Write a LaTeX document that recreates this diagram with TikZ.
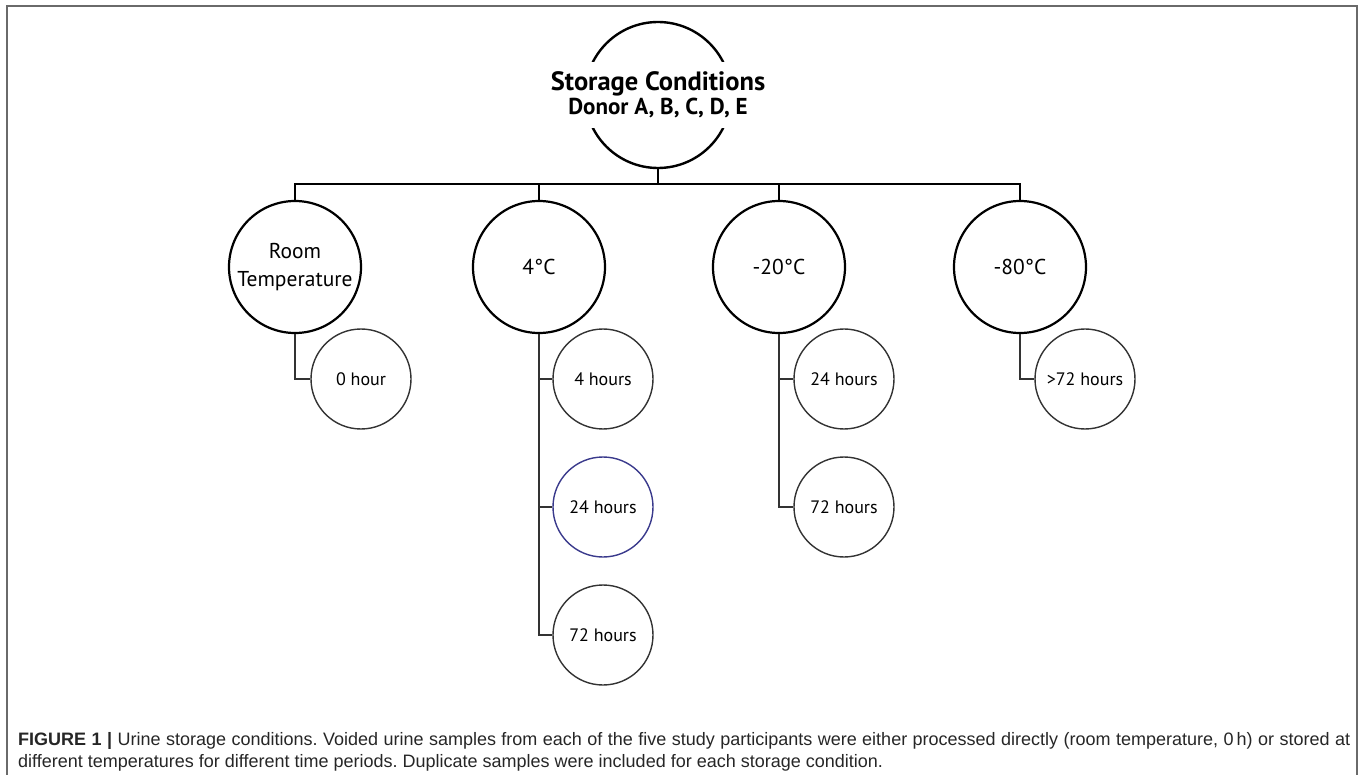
\documentclass[tikz,border=0pt]{standalone}
\usepackage{fontspec}
\setmainfont{PT Sans}
\newfontfamily\capfont{Liberation Sans}
\definecolor{navyc}{HTML}{3A3A8C}
\definecolor{framec}{HTML}{6A6A6A}
\begin{document}
\begin{tikzpicture}[x=1pt,y=-1pt,
  bigc/.style={circle,draw=black,line width=2.2pt,minimum size=132pt,inner sep=0pt,align=center,font=\fontsize{21.5}{28}\selectfont},
  smallc/.style={circle,draw=black!80,line width=1.4pt,minimum size=100pt,inner sep=0pt,font=\fontsize{18}{20}\selectfont},
  bus/.style={line width=2.4pt},
  branch/.style={line width=1.5pt,draw=black!80}]
\useasboundingbox (0,0) rectangle (1360,775);
\draw[framec,line width=1.3pt] (7,780) -- (7,6) -- (1357,6) -- (1357,780);
% root
\node[circle,draw=black,line width=2.4pt,minimum size=146pt,inner sep=0pt] (root) at (658,95) {};
\node[fill=white,inner sep=0pt,minimum height=66pt,minimum width=232pt,align=center] (roottxt) at (658,95)
  {{\fontsize{26.5}{30}\selectfont\bfseries Storage Conditions}\\[1pt]{\fontsize{23}{28}\selectfont\bfseries Donor A, B, C, D, E}};
% level 1
\node[bigc] (rt)  at (295,267) {Room\\Temperature};
\node[bigc] (c4)  at (539,267) {4°C};
\node[bigc] (c20) at (779,267) {-20°C};
\node[bigc] (c80) at (1020,267) {-80°C};
% bus
\coordinate (busm) at (658,184);
\draw[bus] (root.south) -- (busm);
\draw[bus] (rt.north) |- (busm) -| (c80.north);
\draw[bus] (c4.north) -- (c4.north |- busm);
\draw[bus] (c20.north) -- (c20.north |- busm);
% level 2
\node[smallc] (rt0)   at (361,379) {0 hour};
\node[smallc] (c4a)   at (603,379) {4 hours};
\node[smallc,draw=navyc] (c4b) at (603,507) {24 hours};
\node[smallc] (c4c)   at (603,635) {72 hours};
\node[smallc] (c20a)  at (844,379) {24 hours};
\node[smallc] (c20b)  at (844,507) {72 hours};
\node[smallc] (c80a)  at (1085,379) {>72 hours};
\draw[branch] (rt.south) |- (rt0.west);
\draw[branch] (c4.south) |- (c4c.west);
\draw[branch] (c4.south |- c4a.west) -- (c4a.west);
\draw[branch] (c4.south |- c4b.west) -- (c4b.west);
\draw[branch] (c20.south) |- (c20b.west);
\draw[branch] (c20.south |- c20a.west) -- (c20a.west);
\draw[branch] (c80.south) |- (c80a.west);
% caption
\node[anchor=north west,inner sep=0pt,text width=1332pt,align=justify,text=black!85,
  font=\capfont\fontsize{18}{22}\selectfont\frenchspacing] (cap) at (18,732)
  {\textbf{FIGURE 1 |} Urine storage conditions. Voided urine samples from each of the five study participants were either processed directly (room temperature, 0\,h) or stored at\linebreak different temperatures for different time periods. Duplicate samples were included for each storage condition.};
\end{tikzpicture}
\end{document}
